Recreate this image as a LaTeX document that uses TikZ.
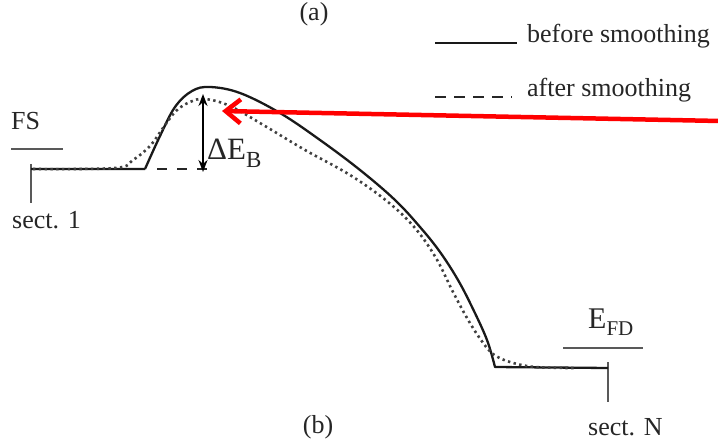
\documentclass[tikz,border=0pt]{standalone}
\usepackage{fontspec}
\setmainfont{Liberation Serif}
\usetikzlibrary{arrows.meta}
\begin{document}
\begin{tikzpicture}[x=1pt,y=-1pt,
  txt/.style={inner sep=0pt, font=\fontsize{26}{28}\selectfont, text=black!85},
  before/.style={line width=2.3pt, black!90, line join=round},
  after/.style={line width=2.6pt, black!75, dash pattern=on 2.4pt off 3.4pt},
  level/.style={line width=2.6pt, black!65},
  legdash/.style={line width=2.2pt, black!85, dash pattern=on 11pt off 8pt},
  redarrow/.style={line width=4.5pt, red, -{Straight Barb[length=15pt,width=24pt]}},
  dEarrow/.style={line width=1.8pt, black, {Stealth[length=12pt,width=9pt]}-{Stealth[length=12pt,width=9pt]}}
]
\useasboundingbox (0,0) rectangle (718,441);

% labels
\node[txt, anchor=base] (la) at (314,21) {(a)};
\node[txt, anchor=base] (lb) at (318,433) {(b)};
\node[txt, anchor=base west] (fs) at (11,130) {FS};
\node[txt, anchor=base west] (s1) at (12,228) {sect. 1};
\node[txt, anchor=base west] (sN) at (588,435) {sect. N};
\node[txt, anchor=base west] (efd) at (588,328) {{\fontsize{30}{30}\selectfont E}\raisebox{-7pt}{\fontsize{21}{21}\selectfont FD}};
\node[txt, anchor=base west] (deb) at (207,160) {{\fontsize{31}{31}\selectfont ΔE}\raisebox{-8pt}{\fontsize{23}{23}\selectfont B}};

% legend
\coordinate (l1a) at (435,43); \coordinate (l1b) at (517,43);
\coordinate (l2a) at (435,97); \coordinate (l2b) at (512,97);
\draw[before] (l1a) -- (l1b);
\draw[legdash] (l2a) -- (l2b);
\node[txt, anchor=base west] (tb) at (527,43) {before smoothing};
\node[txt, anchor=base west] (ta) at (527,97) {after smoothing};

% levels
\coordinate (fsa) at (11,149); \coordinate (fsb) at (63,149);
\draw[level] (fsa) -- (fsb);
\coordinate (fda) at (563,348); \coordinate (fdb) at (643,348);
\draw[level] (fda) -- (fdb);
\coordinate (t1a) at (31,164); \coordinate (t1b) at (31,203);
\draw[level] (t1a) -- (t1b);
\coordinate (tNa) at (608,362); \coordinate (tNb) at (608,402);
\draw[level] (tNa) -- (tNb);

% solid curve (before smoothing)
\draw[before] (31,169) -- (145,169)
  plot[smooth, tension=0.6] coordinates {(145,169) (160,136) (175,107) (192,91) (210,87) (240,93) (280,113) (320,140) (360,170) (395,200) (420,227) (440,252) (458,280) (473,309) (487,340) (495,367)}
  -- (608,368);

% dotted curve (after smoothing)
\draw[after] plot[smooth, tension=0.6] coordinates {(33,169) (115,168) (133,160) (150,146) (163,128) (176,111) (190,102) (205,99) (230,106) (265,126) (305,150) (350,175) (388,202) (415,228) (436,258) (452,290) (467,318) (481,340) (493,354) (510,362) (535,367) (575,368)};

% barrier height
\coordinate (bb1) at (157,169); \coordinate (bb2) at (208,169);
\draw[line width=2.2pt, black!85, dash pattern=on 10pt off 10pt] (bb1) -- (bb2);
\coordinate (dEb) at (203,172); \coordinate (dEt) at (203,94);
\draw[dEarrow] (dEb) -- (dEt);

% red arrow
\coordinate (ra) at (720,121); \coordinate (rb) at (222,111);
\draw[redarrow] (ra) -- (rb);
\end{tikzpicture}
\end{document}
